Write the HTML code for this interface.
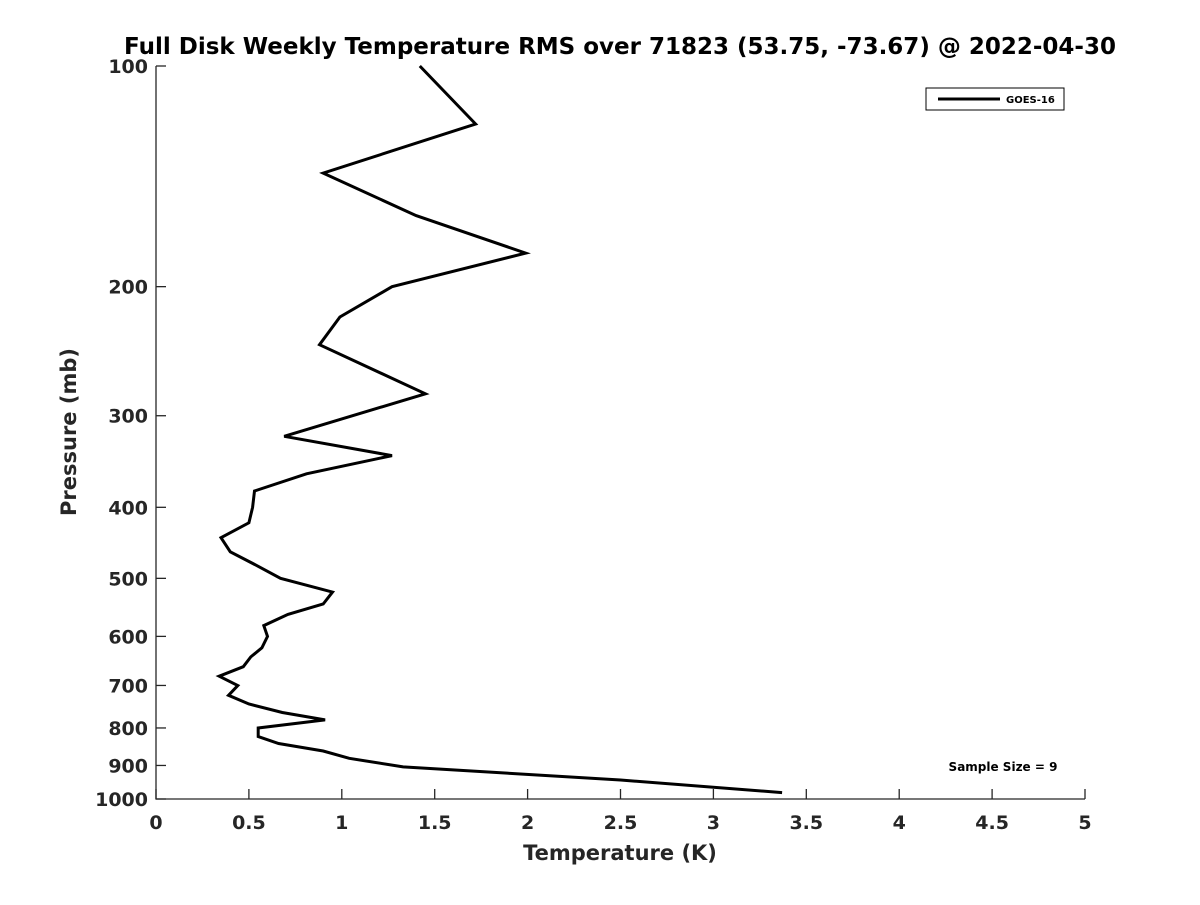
<!DOCTYPE html>
<html><head><meta charset="utf-8"><style>
body{margin:0;background:#fff}
svg text{font-family:"DejaVu Sans","Liberation Sans",sans-serif;font-weight:bold;fill:#262626}
</style></head><body>
<svg width="1200" height="900" xmlns="http://www.w3.org/2000/svg">
<rect width="1200" height="900" fill="#fff"/>
<text x="620" y="54" text-anchor="middle" font-size="23" style="fill:#000">Full Disk Weekly Temperature RMS over 71823 (53.75, -73.67) @ 2022-04-30</text>
<g id="axes"></g>
<path id="line" fill="none" stroke="#000" stroke-width="3" stroke-linejoin="miter"/>
<g>
<rect x="926" y="88" width="138" height="22" fill="#fff" stroke="#000" stroke-width="1"/>
<line x1="938" y1="99" x2="1000" y2="99" stroke="#000" stroke-width="3"/>
<text x="1006" y="103" font-size="10" style="fill:#000">GOES-16</text>
</g>
<text x="1003" y="771" text-anchor="middle" font-size="12" style="fill:#000">Sample Size = 9</text>
<text x="620" y="860" text-anchor="middle" font-size="21">Temperature (K)</text>
<text transform="translate(76,432) rotate(-90)" text-anchor="middle" font-size="21">Pressure (mb)</text>
</svg>
<script>
const temps=[1.42,1.72,0.90,1.40,1.99,1.27,0.99,0.88,1.45,0.69,1.27,0.81,0.53,0.52,0.50,0.35,0.40,0.54,0.67,0.95,0.90,0.71,0.58,0.60,0.57,0.51,0.47,0.34,0.44,0.39,0.50,0.68,0.91,0.55,0.55,0.66,0.90,1.04,1.33,2.50,3.37];
const pressures=[100,120,140,160,180,200,220,240,280,320,340,360,380,400,420,440,460,480,500,522,542,560,580,600,622,640,660,680,700,722,742,762,780,800,822,840,860,880,904,942,980];
const xTicks=[0,0.5,1,1.5,2,2.5,3,3.5,4,4.5,5];
const yTicks=[100,200,300,400,500,600,700,800,900,1000];
const X0=156,X1=1085,Y0=66,Y1=799;
const xs=v=>X0+(v-0)/5*(X1-X0);
const ys=p=>Y0+(Math.log10(p)-2)*(Y1-Y0);
const NS="http://www.w3.org/2000/svg";
const ax=document.getElementById('axes');
function mk(t,a){const e=document.createElementNS(NS,t);for(const k in a)e.setAttribute(k,a[k]);ax.appendChild(e);return e;}
let l=mk('path',{d:`M${X0},${Y0}V${Y1}H${X1}`,fill:'none',stroke:'#262626','stroke-width':1.3});


xTicks.forEach(v=>{const x=xs(v);
 const t=mk('line',{x1:x,x2:x,y1:Y1,y2:Y1-10,stroke:'#262626','stroke-width':1.3});
 
 
 const s=mk('text',{x:x,y:829,'text-anchor':'middle','font-size':19});s.textContent=String(v);
 
 
});
yTicks.forEach(p=>{const y=ys(p);
 const t=mk('line',{x1:X0,x2:X0+10,y1:y,y2:y,stroke:'#262626','stroke-width':1.3});
 
 
 const s=mk('text',{x:148,y:y+7,'text-anchor':'end','font-size':19});s.textContent=String(p);
 
 
});
document.getElementById('line').setAttribute('d',temps.map((t,i)=>(i?'L':'M')+xs(t).toFixed(1)+','+ys(pressures[i]).toFixed(1)).join(''));
</script>
</body></html>
